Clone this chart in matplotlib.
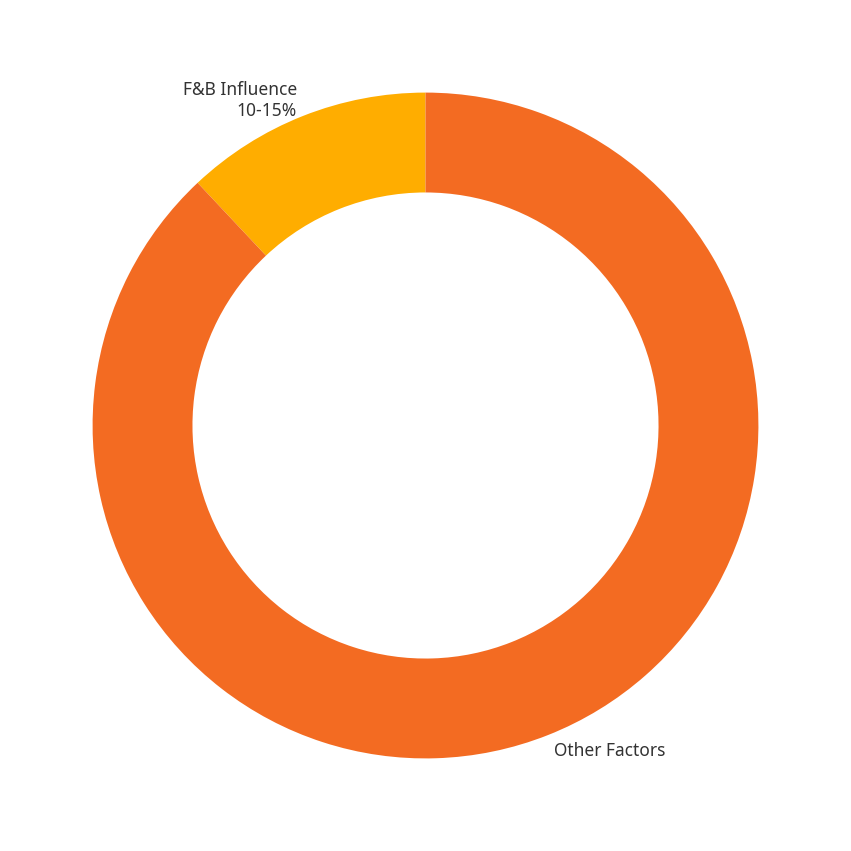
import matplotlib
matplotlib.use("Agg")
import matplotlib.pyplot as plt

labels = ["F&B Influence\n10-15%", "Other Factors"]
values = [12, 88]
colors = ["#FFAD00", "#F36B22"]

plt.rcParams['font.family'] = ['Noto Sans', 'DejaVu Sans']
fig = plt.figure(figsize=(8.51, 8.51), dpi=100)
ax = fig.add_axes([0.011, 0.011, 0.978, 0.978])
ax.pie(values, labels=labels, colors=colors, startangle=90, counterclock=True,
       labeldistance=1.05, wedgeprops=dict(width=0.3, linewidth=0),
       textprops=dict(color="#333333", fontsize=12.5))
ax.set_aspect('equal')
fig.savefig("out.png", dpi=100, facecolor="white")
